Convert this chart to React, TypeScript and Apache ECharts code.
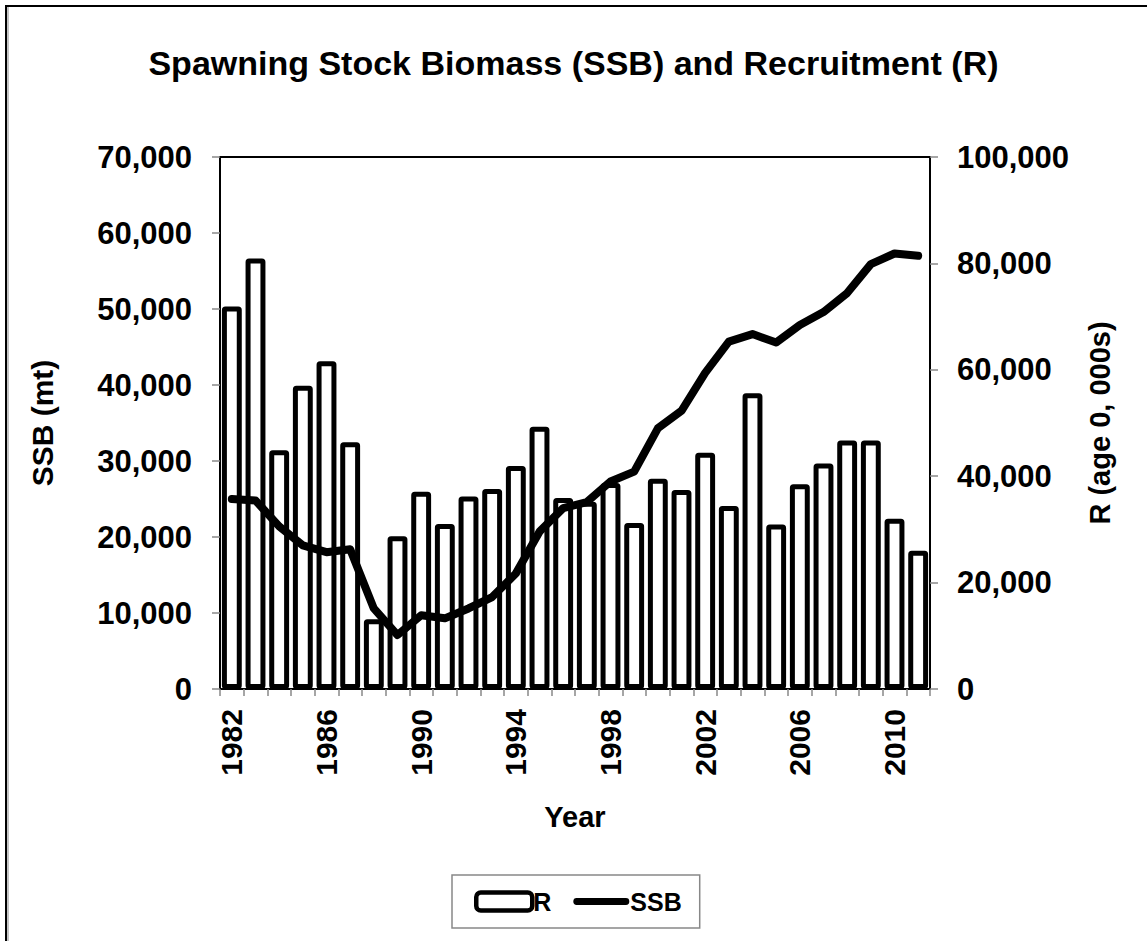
import React, { useEffect, useRef } from "react";
import * as echarts from "echarts";

const years: string[] = [
  "1982","1983","1984","1985","1986","1987","1988","1989","1990","1991",
  "1992","1993","1994","1995","1996","1997","1998","1999","2000","2001",
  "2002","2003","2004","2005","2006","2007","2008","2009","2010","2011",
];

// Recruitment (age 0, 000s) - right axis
const recruitment: number[] = [
  71900, 80900, 44900, 57000, 61600, 46400, 13100, 28700, 37100, 31000,
  36200, 37600, 41900, 49300, 35900, 35200, 38700, 31200, 39500, 37400,
  44400, 34400, 55600, 30900, 38500, 42400, 46700, 46700, 32000, 26000,
];

// Spawning stock biomass (mt) - left axis
const ssb: number[] = [
  25000, 24800, 21400, 18900, 18000, 18400, 10600, 7100, 9700, 9300,
  10600, 12100, 15200, 20700, 23800, 24600, 27300, 28600, 34300, 36600,
  41600, 45700, 46700, 45600, 47900, 49600, 52100, 55900, 57300, 57000,
];

const FONT = "'Liberation Sans', Arial, sans-serif";

const LINE_ICON =
  "path://M0,0 L0,0 Z M58,18 L58,18 Z M3.5,5.5 L54.5,5.5 A3.5,3.5 0 0 1 54.5,12.5 L3.5,12.5 A3.5,3.5 0 0 1 3.5,5.5 Z";

export default function App() {
  const ref = useRef<HTMLDivElement>(null);
  useEffect(() => {
    if (!ref.current) return;
    const chart = echarts.init(ref.current, undefined, { renderer: "svg" });
    const fmt = (v: number) => v.toLocaleString("en-US");
    chart.setOption({
      animation: false,
      backgroundColor: "#ffffff",
      textStyle: { fontFamily: FONT, color: "#000" },
      title: {
        text: "Spawning Stock Biomass (SSB) and Recruitment (R)",
        left: "center",
        top: 41,
        textStyle: { fontFamily: FONT, fontWeight: "bold", fontSize: 34, color: "#000" },
      },
      graphic: [
        { type: "rect", shape: { x: 6, y: 6, width: 1300, height: 1100 }, style: { fill: "none", stroke: "#000", lineWidth: 2 }, silent: true },
        { type: "line", shape: { x1: 8, y1: 7, x2: 8, y2: 941 }, style: { stroke: "#888", lineWidth: 1 }, silent: true },
      ],
      legend: {
        left: 452,
        top: 875,
        padding: [14, 18, 14, 22],
        itemGap: 22,
        itemWidth: 56,
        itemHeight: 18,
        borderColor: "#888",
        borderWidth: 1.5,
        textStyle: { fontFamily: FONT, fontWeight: "bold", fontSize: 25, color: "#000", padding: [0, 0, 0, -4] },
        data: [
          { name: "R", icon: "roundRect", itemStyle: { color: "#fff", borderColor: "#000", borderWidth: 4.5 } },
          { name: "SSB", icon: LINE_ICON, itemStyle: { color: "#000", borderWidth: 0 }, lineStyle: { width: 0 } },
        ],
      },
      grid: {
        left: 220,
        right: 217,
        top: 157,
        bottom: 252,
        show: true,
        borderColor: "#000",
        borderWidth: 2,
        backgroundColor: "transparent",
      },
      xAxis: {
        type: "category",
        data: years,
        name: "Year",
        nameLocation: "middle",
        nameGap: 113,
        nameTextStyle: { fontFamily: FONT, fontWeight: "bold", fontSize: 29, color: "#000" },
        axisLine: { lineStyle: { color: "#000", width: 2 } },
        axisTick: { show: true, interval: 0, length: 7, lineStyle: { color: "#888", width: 1.5 } },
        axisLabel: {
          interval: 3,
          rotate: 90,
          margin: 20,
          fontFamily: FONT,
          fontWeight: "bold",
          fontSize: 30,
          color: "#000",
        },
      },
      yAxis: [
        {
          type: "value",
          min: 0,
          max: 70000,
          interval: 10000,
          name: "SSB (mt)",
          nameLocation: "middle",
          nameRotate: 90,
          nameGap: 163,
          nameTextStyle: { fontFamily: FONT, fontWeight: "bold", fontSize: 30, color: "#000" },
          axisLine: { show: true, lineStyle: { color: "#000", width: 2 } },
          axisTick: { show: true, length: 8, lineStyle: { color: "#888", width: 1.5 } },
          splitLine: { show: false },
          axisLabel: { margin: 28, formatter: fmt, fontFamily: FONT, fontWeight: "bold", fontSize: 31, color: "#000" },
        },
        {
          type: "value",
          min: 0,
          max: 100000,
          interval: 20000,
          name: "R (age 0, 000s)",
          nameLocation: "middle",
          nameRotate: 90,
          nameGap: 155,
          nameTextStyle: { fontFamily: FONT, fontWeight: "bold", fontSize: 29, color: "#000" },
          axisLine: { show: true, lineStyle: { color: "#000", width: 2 } },
          axisTick: { show: true, length: 8, lineStyle: { color: "#888", width: 1.5 } },
          splitLine: { show: false },
          axisLabel: { margin: 27, formatter: fmt, fontFamily: FONT, fontWeight: "bold", fontSize: 31, color: "#000" },
        },
      ],
      series: [
        {
          name: "R",
          type: "bar",
          yAxisIndex: 1,
          data: recruitment,
          barCategoryGap: "16%",
          itemStyle: { color: "#ffffff", borderColor: "#000", borderWidth: 5, borderRadius: 1 },
          z: 2,
        },
        {
          name: "SSB",
          type: "line",
          yAxisIndex: 0,
          data: ssb,
          symbol: "none",
          lineStyle: { color: "#000", width: 8, cap: "round", join: "round" },
          itemStyle: { color: "#000" },
          z: 3,
        },
      ],
    });
    return () => chart.dispose();
  }, []);
  return (
    <div
      ref={ref}
      style={{ position: "fixed", left: 0, top: 0, width: 1147, height: 941 }}
    />
  );
}
